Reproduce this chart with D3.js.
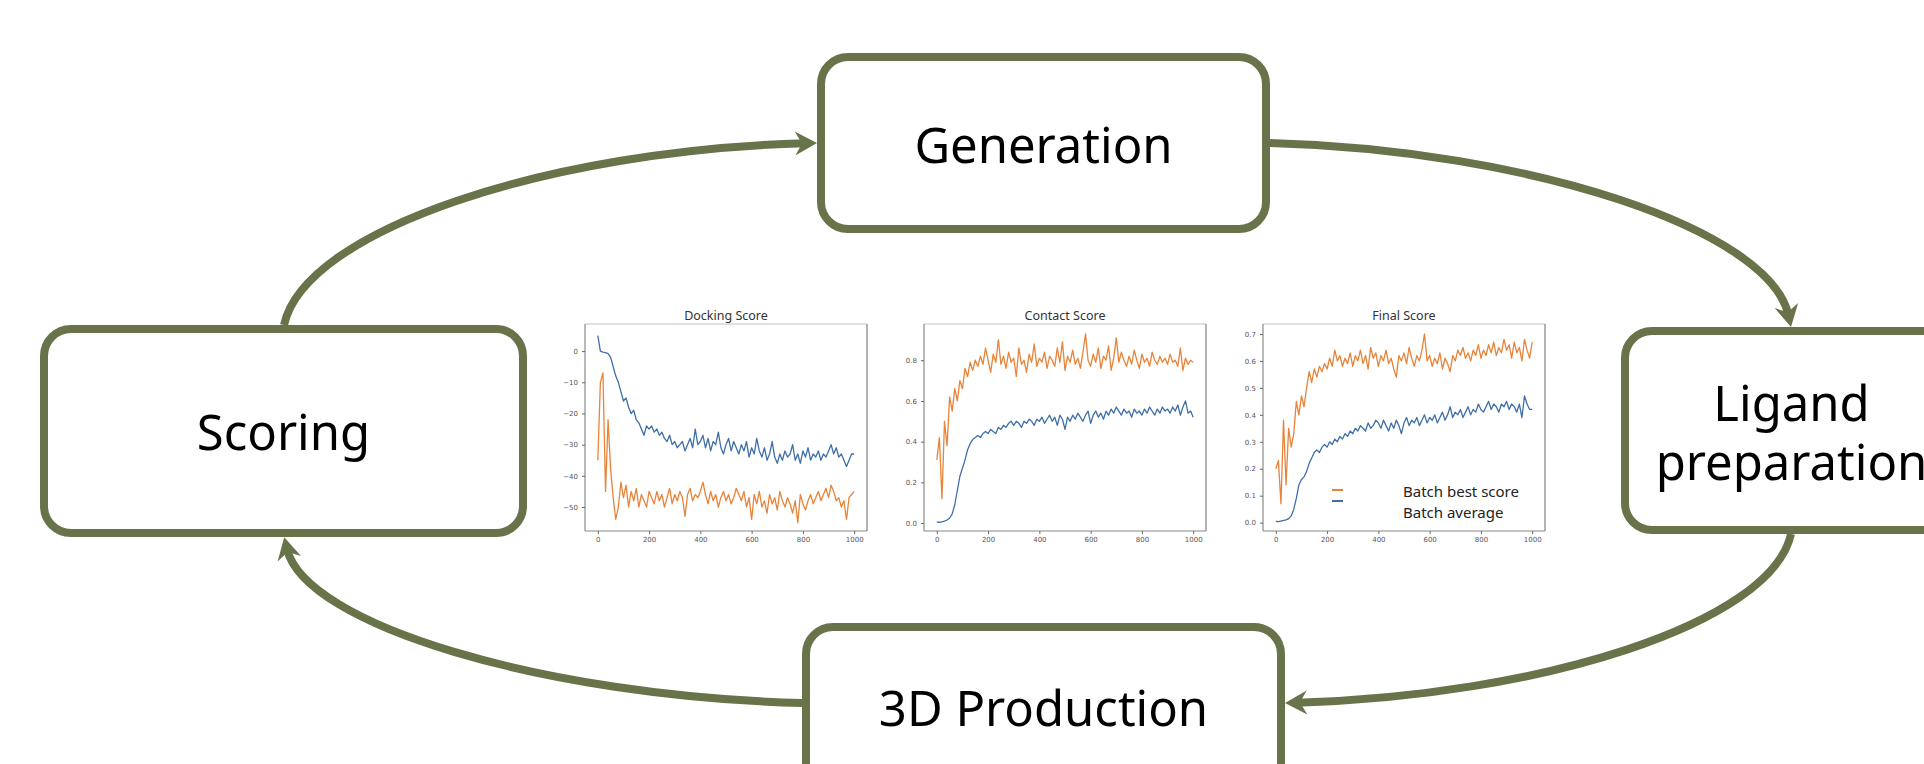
<!DOCTYPE html>
<html>
<head>
<meta charset="utf-8">
<script src="https://cdn.jsdelivr.net/npm/d3@7/dist/d3.min.js"></script>
<style>
  body { margin: 0; background: #fff; }
  svg { display: block; }
</style>
</head>
<body>
<svg id="chart" width="1924" height="764"></svg>
<script>
// training steps, one sample every 10 steps
var steps = d3.range(0, 1001, 10);
var xTicks = [0, 200, 400, 600, 800, 1000];

var dockingAvg = [5, 0, -0.3, -0.5, -0.8, -2, -5, -8, -10, -13, -16, -15, -18, -20, -19, -22, -23, -25, -27, -24,
  -25, -24, -26, -25, -27, -26, -28, -29, -27, -30, -29, -31, -30, -29, -32, -30, -28, -31, -25, -30,
  -29, -27, -31, -28, -32, -29, -30, -26, -31, -33, -30, -28, -32, -29, -31, -33, -30, -32, -29, -34,
  -31, -33, -28, -32, -34, -31, -35, -33, -29, -34, -36, -33, -35, -32, -34, -33, -30, -35, -33, -36,
  -32, -34, -31, -35, -33, -34, -32, -35, -33, -34, -32, -30, -33, -31, -34, -33, -35, -37, -35, -33, -33];
var dockingBest = [-35, -10, -7, -45, -22, -38, -47, -54, -50, -42, -47, -43, -50, -45, -48, -44, -50, -46, -48, -50,
  -45, -47, -49, -45, -48, -46, -50, -47, -44, -49, -46, -48, -45, -47, -53, -46, -44, -48, -46, -47,
  -45, -42, -46, -49, -45, -48, -46, -50, -47, -45, -48, -46, -49, -47, -44, -46, -48, -45, -50, -47,
  -54, -46, -49, -45, -50, -48, -52, -46, -49, -47, -51, -45, -48, -50, -47, -49, -52, -48, -55, -46,
  -49, -51, -48, -46, -49, -47, -45, -48, -46, -44, -47, -43, -45, -48, -47, -50, -48, -54, -47, -46, -45];
var dockingTicks = [0, -10, -20, -30, -40, -50];

var contactAvg = [0.005, 0.004, 0.006, 0.01, 0.015, 0.025, 0.045, 0.09, 0.16, 0.23, 0.27, 0.31, 0.36, 0.39, 0.41, 0.42, 0.43, 0.42, 0.44, 0.45,
  0.44, 0.46, 0.45, 0.44, 0.47, 0.46, 0.48, 0.47, 0.49, 0.50, 0.48, 0.50, 0.49, 0.47, 0.50, 0.49, 0.51, 0.50, 0.48, 0.51,
  0.50, 0.52, 0.49, 0.51, 0.53, 0.50, 0.52, 0.48, 0.53, 0.51, 0.46, 0.52, 0.50, 0.53, 0.51, 0.54, 0.52, 0.50, 0.53, 0.55,
  0.49, 0.53, 0.55, 0.52, 0.54, 0.51, 0.55, 0.53, 0.56, 0.54, 0.57, 0.55, 0.53, 0.56, 0.54, 0.55, 0.52, 0.56, 0.54, 0.55,
  0.53, 0.56, 0.54, 0.57, 0.55, 0.53, 0.56, 0.54, 0.57, 0.55, 0.56, 0.54, 0.57, 0.55, 0.58, 0.53, 0.57, 0.60, 0.54, 0.55, 0.52];
var contactBest = [0.31, 0.42, 0.12, 0.50, 0.38, 0.62, 0.55, 0.66, 0.60, 0.70, 0.66, 0.76, 0.72, 0.79, 0.75, 0.80, 0.77, 0.82, 0.78, 0.86,
  0.80, 0.74, 0.83, 0.79, 0.90, 0.78, 0.82, 0.76, 0.84, 0.79, 0.81, 0.72, 0.86, 0.78, 0.80, 0.74, 0.83, 0.79, 0.88, 0.77,
  0.81, 0.79, 0.84, 0.76, 0.82, 0.80, 0.77, 0.86, 0.79, 0.89, 0.75, 0.82, 0.79, 0.85, 0.78, 0.81, 0.76, 0.84, 0.93, 0.80,
  0.77, 0.83, 0.79, 0.86, 0.76, 0.82, 0.80, 0.87, 0.75, 0.81, 0.91, 0.79, 0.84, 0.80, 0.77, 0.82, 0.78, 0.85, 0.80, 0.76,
  0.83, 0.79, 0.81, 0.77, 0.84, 0.80, 0.78, 0.82, 0.79, 0.81, 0.78, 0.83, 0.79, 0.80, 0.77, 0.86, 0.75, 0.81, 0.78, 0.80, 0.79];
var contactTicks = [0, 0.2, 0.4, 0.6, 0.8];

var finalAvg = [0.005, 0.004, 0.006, 0.008, 0.01, 0.015, 0.025, 0.05, 0.09, 0.14, 0.16, 0.17, 0.19, 0.22, 0.24, 0.26, 0.27, 0.26, 0.28, 0.29,
  0.28, 0.30, 0.29, 0.31, 0.30, 0.32, 0.31, 0.33, 0.32, 0.34, 0.33, 0.35, 0.34, 0.36, 0.35, 0.34, 0.37, 0.35, 0.36, 0.38,
  0.37, 0.35, 0.38, 0.36, 0.34, 0.37, 0.35, 0.38, 0.36, 0.33, 0.37, 0.39, 0.36, 0.38, 0.37, 0.39, 0.36, 0.38, 0.40, 0.37,
  0.39, 0.38, 0.40, 0.37, 0.39, 0.41, 0.38, 0.40, 0.43, 0.39, 0.41, 0.40, 0.42, 0.39, 0.41, 0.43, 0.40, 0.42, 0.41, 0.44,
  0.42, 0.41, 0.43, 0.45, 0.42, 0.44, 0.43, 0.41, 0.44, 0.43, 0.45, 0.42, 0.44, 0.43, 0.41, 0.44, 0.39, 0.47, 0.44, 0.42, 0.42];
var finalBest = [0.20, 0.23, 0.07, 0.38, 0.14, 0.35, 0.28, 0.33, 0.45, 0.40, 0.47, 0.43, 0.50, 0.56, 0.52, 0.57, 0.54, 0.58, 0.56, 0.59,
  0.57, 0.61, 0.58, 0.64, 0.60, 0.62, 0.58, 0.61, 0.59, 0.63, 0.58, 0.62, 0.60, 0.64, 0.59, 0.62, 0.57, 0.65, 0.61, 0.63,
  0.58, 0.62, 0.60, 0.64, 0.59, 0.61, 0.57, 0.54, 0.62, 0.60, 0.63, 0.59, 0.65, 0.61, 0.58, 0.62, 0.60, 0.64, 0.70, 0.60,
  0.62, 0.58, 0.61, 0.59, 0.63, 0.57, 0.61, 0.59, 0.56, 0.62, 0.60, 0.64, 0.62, 0.65, 0.61, 0.63, 0.60, 0.64, 0.62, 0.66,
  0.61, 0.64, 0.62, 0.66, 0.63, 0.67, 0.62, 0.65, 0.63, 0.68, 0.64, 0.66, 0.61, 0.67, 0.63, 0.65, 0.60, 0.68, 0.64, 0.61, 0.67];
var finalTicks = [0, 0.1, 0.2, 0.3, 0.4, 0.5, 0.6, 0.7];

var panelTitles = ["Docking Score", "Contact Score", "Final Score"];
var legendLabels = ["Batch best score", "Batch average"];

var green = "#68734a";
var orange = "#e8843a";
var blue = "#3f6fa8";

var svg = d3.select("#chart");

var defs = svg.append("defs");
defs.append("marker")
  .attr("id", "head")
  .attr("markerUnits", "userSpaceOnUse")
  .attr("viewBox", "-36 -16 40 32")
  .attr("markerWidth", 40)
  .attr("markerHeight", 32)
  .attr("refX", -12)
  .attr("refY", 0)
  .attr("orient", "auto")
  .append("path")
  .attr("d", "M0,0 L-22,-12 L-15,0 L-22,12 Z")
  .attr("fill", green);

// ---------- the cycle boxes ----------
var boxes = [
  {label: ["Generation"], x: 817, y: 53, w: 453, h: 180, ty: [163]},
  {label: ["Ligand", "preparation"], x: 1621, y: 327, w: 343, h: 207, ty: [421, 480]},
  {label: ["3D Production"], x: 802, y: 623, w: 483, h: 190, ty: [726]},
  {label: ["Scoring"], x: 40, y: 325, w: 487, h: 212, ty: [450]}
];

var bw = 8;
boxes.forEach(function (b) {
  svg.append("rect")
    .attr("x", b.x + bw / 2)
    .attr("y", b.y + bw / 2)
    .attr("width", b.w - bw)
    .attr("height", b.h - bw)
    .attr("rx", 27)
    .attr("fill", "#fff")
    .attr("stroke", green)
    .attr("stroke-width", bw);

  b.label.forEach(function (t, i) {
    svg.append("text")
      .attr("x", b.x + b.w / 2 + (b.label.length > 1 ? -1 : 0))
      .attr("y", b.ty[i])
      .attr("text-anchor", "middle")
      .style("font-family", "'Noto Sans', 'Open Sans', sans-serif")
      .style("font-size", "49px")
      .style("fill", "#000")
      .text(t);
  });
});

// ---------- curved arrows between the boxes ----------
// each one: start, two control points, end (end is pulled back so the head sits on the box)
var arrows = [
  [[284, 325], [305, 229], [551, 150], [805, 143.3]],
  [[1270, 143], [1530, 150], [1770, 230], [1788.5, 315.3]],
  [[1791, 534], [1771, 624], [1538, 696], [1297, 702.7]],
  [[802, 703], [543, 696], [305, 625], [287, 549]]
];
arrows.forEach(function (a) {
  var p = d3.path();
  p.moveTo(a[0][0], a[0][1]);
  p.bezierCurveTo(a[1][0], a[1][1], a[2][0], a[2][1], a[3][0], a[3][1]);
  svg.append("path")
    .attr("d", p.toString())
    .attr("fill", "none")
    .attr("stroke", green)
    .attr("stroke-width", bw)
    .attr("marker-end", "url(#head)");
});

// ---------- the three small training plots ----------
var panelLeft = [585, 924, 1263];
var panelTop = 324, panelW = 282, panelH = 207;

var panels = [
  {avg: dockingAvg, best: dockingBest, ticks: dockingTicks, domain: [-57.7, 8.7], fmt: d3.format("d")},
  {avg: contactAvg, best: contactBest, ticks: contactTicks, domain: [-0.039, 0.978], fmt: d3.format(".1f")},
  {avg: finalAvg, best: finalBest, ticks: finalTicks, domain: [-0.031, 0.737], fmt: d3.format(".1f")}
];

panels.forEach(function (p, i) {
  var g = svg.append("g")
    .attr("transform", "translate(" + panelLeft[i] + "," + panelTop + ")");

  var x = d3.scaleLinear().domain([-50, 1050]).range([0, panelW]);
  var y = d3.scaleLinear().domain(p.domain).range([panelH, 0]);

  var line = function (vals) {
    return d3.line()
      .x(function (d, k) { return x(steps[k]); })
      .y(function (d) { return y(d); })(vals);
  };

  g.append("path")
    .attr("d", line(p.avg))
    .attr("fill", "none")
    .attr("stroke", blue)
    .attr("stroke-width", 1.3)
    .attr("stroke-linejoin", "round");

  g.append("path")
    .attr("d", line(p.best))
    .attr("fill", "none")
    .attr("stroke", orange)
    .attr("stroke-width", 1.3)
    .attr("stroke-linejoin", "round");

  // spines
  g.append("line").attr("x1", 0).attr("x2", panelW).attr("y1", 0).attr("y2", 0)
    .attr("stroke", "#d6d6d6").attr("stroke-width", 1.5);
  g.append("line").attr("x1", panelW).attr("x2", panelW).attr("y1", 0).attr("y2", panelH)
    .attr("stroke", "#9a9a9a").attr("stroke-width", 1.5);
  g.append("line").attr("x1", 0).attr("x2", 0).attr("y1", 0).attr("y2", panelH)
    .attr("stroke", "#8a8a8a").attr("stroke-width", 1.2);
  g.append("line").attr("x1", 0).attr("x2", panelW).attr("y1", panelH).attr("y2", panelH)
    .attr("stroke", "#8a8a8a").attr("stroke-width", 1.2);

  var xAxis = g.append("g")
    .attr("transform", "translate(0," + panelH + ")")
    .call(d3.axisBottom(x).tickValues(xTicks).tickSize(3).tickPadding(3).tickFormat(d3.format("d")));
  var yAxis = g.append("g")
    .call(d3.axisLeft(y).tickValues(p.ticks).tickSize(3).tickPadding(4).tickFormat(p.fmt));

  [xAxis, yAxis].forEach(function (ax) {
    ax.select(".domain").remove();
    ax.selectAll("line").attr("stroke", "#666");
    ax.selectAll("text")
      .style("font-family", "'DejaVu Sans', sans-serif")
      .style("font-size", "7px")
      .style("fill", "#555");
  });

  g.append("text")
    .attr("x", panelW / 2)
    .attr("y", -4)
    .attr("text-anchor", "middle")
    .style("font-family", "'Noto Sans', 'Open Sans', sans-serif")
    .style("font-size", "12.5px")
    .style("fill", "#333")
    .text(panelTitles[i]);
});

// legend inside the last plot
var lg = svg.append("g")
  .attr("transform", "translate(" + panelLeft[2] + "," + panelTop + ")");
[orange, blue].forEach(function (c, i) {
  lg.append("line")
    .attr("x1", 69).attr("x2", 80)
    .attr("y1", 166 + i * 11).attr("y2", 166 + i * 11)
    .attr("stroke", c)
    .attr("stroke-width", 2);
  lg.append("text")
    .attr("x", 140)
    .attr("y", 173 + i * 21)
    .style("font-family", "'Noto Sans', 'Open Sans', sans-serif")
    .style("font-size", "15px")
    .style("fill", "#222")
    .text(legendLabels[i]);
});
</script>
</body>
</html>
